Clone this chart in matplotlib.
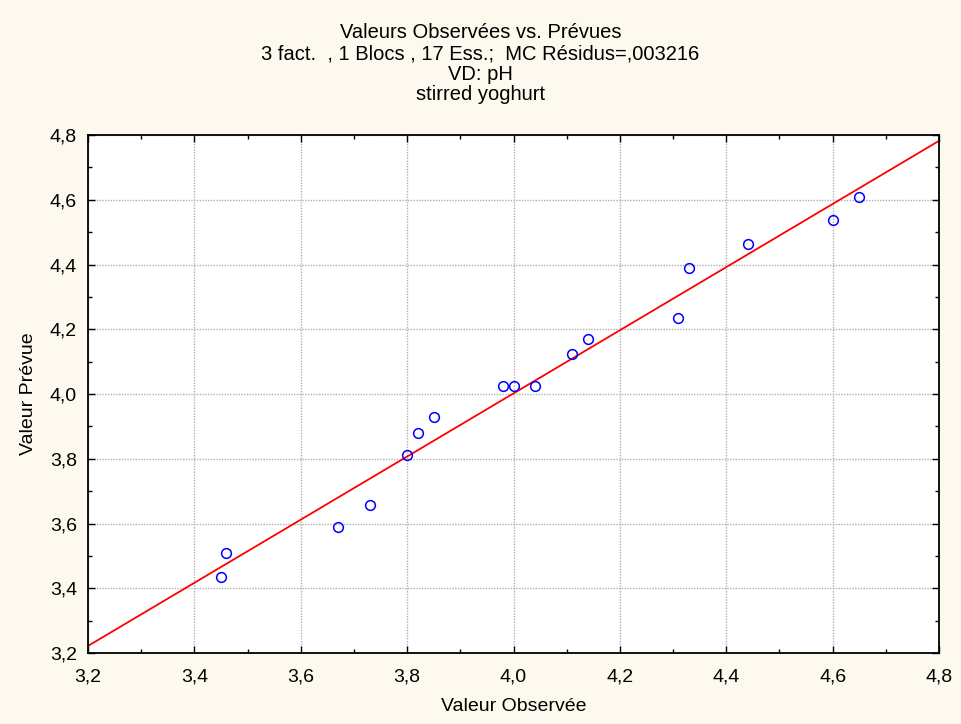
import numpy as np
import matplotlib.pyplot as plt
from matplotlib.ticker import MultipleLocator, FuncFormatter

plt.rcParams['font.family'] = ['Liberation Sans', 'DejaVu Sans']

# observed vs predicted pH
observed = [3.45, 3.46, 3.67, 3.73, 3.80, 3.82, 3.85, 3.98, 4.00, 4.04,
            4.11, 4.14, 4.31, 4.33, 4.44, 4.60, 4.65]
predicted = [3.435, 3.509, 3.589, 3.657, 3.812, 3.880, 3.929, 4.025, 4.025, 4.025,
             4.124, 4.170, 4.235, 4.389, 4.463, 4.537, 4.608]

# fitted line ends
fit_x = [3.2, 4.8]
fit_y = [3.222, 4.782]

bg = '#fdf9ee'
fig = plt.figure(figsize=(9.61, 7.24), dpi=100, facecolor=bg)
ax = fig.add_axes([0.0916, 0.098, 0.8855, 0.7155])
ax.set_facecolor('white')

ax.plot(fit_x, fit_y, color='red', lw=1.3, zorder=2)
ax.plot(observed, predicted, 'o', mfc='none', mec='#0000ff', ms=7, mew=1.1, zorder=3)

ax.set_xlim(3.2, 4.8)
ax.set_ylim(3.2, 4.8)
fmt = FuncFormatter(lambda v, p: f"{v:.1f}".replace('.', ','))
for a in (ax.xaxis, ax.yaxis):
    a.set_major_locator(MultipleLocator(0.2))
    a.set_minor_locator(MultipleLocator(0.1))
    a.set_major_formatter(fmt)

ax.tick_params(which='both', direction='in', top=True, right=True, color='black')
ax.tick_params(which='major', length=5, width=1, labelsize=14)
ax.tick_params(axis='x', which='major', pad=11)
ax.tick_params(axis='y', which='major', pad=8)
ax.tick_params(which='minor', length=3, width=1)
ax.grid(True, which='major', color='#b0b0b0', ls=(0, (1, 1)), lw=1)
for s in ax.spines.values():
    s.set_linewidth(1.3)
    s.set_color('black')

ax.set_xlabel('Valeur Observée', fontsize=14, labelpad=9)
ax.set_ylabel('Valeur Prévue', fontsize=14, labelpad=9)

titles = ['Valeurs Observées vs. Prévues',
          '3 fact.  , 1 Blocs , 17 Ess.;  MC Résidus=,003216',
          'VD: pH',
          'stirred yoghurt']
baselines = [38, 59, 80, 100]
for t, b in zip(titles, baselines):
    fig.text(0.5, 1 - b / 724, t, ha='center', va='baseline', fontsize=14.5)

fig.savefig('out.png', dpi=100, facecolor=bg)
